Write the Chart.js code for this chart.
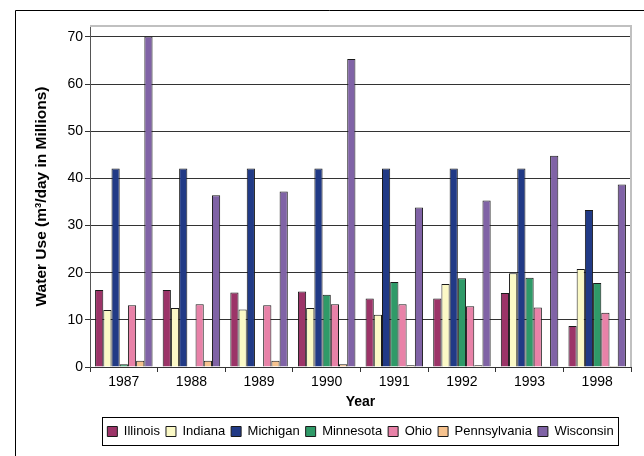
<!DOCTYPE html>
<html>
<head>
<meta charset="utf-8">
<script src="https://cdn.jsdelivr.net/npm/chart.js@4/dist/chart.umd.min.js"></script>
<style>
    html, body { margin: 0; padding: 0; background: #fff; }
    #wrap { width: 644px; height: 456px; }
</style>
</head>
<body>
<div id="wrap"><canvas id="chart" width="644" height="456"></canvas></div>
<script>
const years = ['1987', '1988', '1989', '1990', '1991', '1992', '1993', '1998'];
const states = ['Illinois', 'Indiana', 'Michigan', 'Minnesota', 'Ohio', 'Pennsylvania', 'Wisconsin'];

const illinois = [16.3, 16.3, 15.8, 16.0, 14.5, 14.5, 15.7, 8.7];
const indiana = [12.1, 12.5, 12.2, 12.5, 11.1, 17.6, 19.9, 20.8];
const michigan = [42.1, 42.1, 42.1, 42.1, 42.1, 42.1, 42.1, 33.3];
const minnesota = [0.6, null, null, 15.3, 18.0, 18.8, 18.9, 17.8];
const ohio = [13.1, 13.3, 13.1, 13.3, 13.3, 12.9, 12.6, 11.5];
const pennsylvania = [1.3, 1.3, 1.3, 0.6, 0.35, 0.35, 0.15, 0.2];
const wisconsin = [70.1, 36.4, 37.2, 65.3, 33.8, 35.3, 44.8, 38.7];

const seriesValues = [illinois, indiana, michigan, minnesota, ohio, pennsylvania, wisconsin];
const seriesColors = ['#9c3468', '#fbf9c6', '#213a86', '#2f9a68', '#e882a8', '#f6c28e', '#8063a6'];

const FONT = '"Liberation Sans", Arial, sans-serif';

class WaterUseChartView {

    #canvas;
    #chart;

    constructor(canvas) {
        this.#canvas = canvas;
    }

    display() {
        this.#chart = new Chart(this.#canvas, {
            type: 'bar',
            data: this.#getData(),
            options: this.#getOptions(),
            plugins: [this.#getFramePlugin()]
        });
    }

    #getData() {
        return {
            labels: years,
            datasets: states.map((state, i) => ({
                label: state,
                data: seriesValues[i],
                backgroundColor: seriesColors[i],
                borderColor: '#1a1a1a',
                borderWidth: 1,
                categoryPercentage: 0.85,
                barPercentage: 1.0
            }))
        };
    }

    #getOptions() {
        return {
            responsive: false,
            animation: false,
            layout: {
                padding: { left: 20, right: 13, top: 26, bottom: 8 }
            },
            scales: {
                x: {
                    grid: {
                        offset: true,
                        drawOnChartArea: false,
                        tickLength: 5,
                        color: '#333'
                    },
                    border: { color: '#333' },
                    ticks: {
                        color: '#000',
                        font: { family: FONT, size: 14 },
                        padding: 2
                    },
                    title: {
                        display: true,
                        text: 'Year',
                        color: '#000',
                        font: { family: FONT, size: 14, weight: 'bold' },
                        padding: { top: 2, bottom: 8 }
                    },
                    afterFit: scale => { scale.height = 52; }
                },
                y: {
                    min: 0,
                    max: 72.3,
                    ticks: {
                        stepSize: 10,
                        includeBounds: false,
                        color: '#000',
                        font: { family: FONT, size: 14 },
                        padding: 2
                    },
                    grid: {
                        color: '#333',
                        tickLength: 5
                    },
                    border: { color: '#555' },
                    title: {
                        display: true,
                        text: 'Water Use (m³/day in Millions)',
                        color: '#000',
                        font: { family: FONT, size: 15.5, weight: 'bold' },
                        padding: { top: 12, bottom: 0 }
                    },
                    afterFit: scale => { scale.width = 70; }
                }
            },
            plugins: {
                legend: {
                    position: 'bottom',
                    fullSize: false,
                    labels: {
                        color: '#000',
                        font: { family: FONT, size: 13 },
                        boxWidth: 10,
                        boxHeight: 10,
                        padding: 6
                    }
                },
                tooltip: { enabled: false }
            }
        };
    }

    // outer frame, grey plot border and the box round the legend
    #getFramePlugin() {
        return {
            id: 'frames',
            afterDraw(chart) {
                const ctx = chart.ctx;
                const area = chart.chartArea;
                ctx.save();

                ctx.strokeStyle = '#000';
                ctx.lineWidth = 1;
                ctx.beginPath();
                ctx.moveTo(15.5, 456);
                ctx.lineTo(15.5, 10.5);
                ctx.lineTo(644, 10.5);
                ctx.stroke();

                ctx.strokeStyle = '#c0c0c0';
                ctx.lineWidth = 2;
                ctx.beginPath();
                ctx.moveTo(area.left, area.top);
                ctx.lineTo(area.right, area.top);
                ctx.lineTo(area.right, area.bottom);
                ctx.stroke();

                const boxes = chart.legend.legendHitBoxes;
                if (boxes && boxes.length) {
                    const first = boxes[0];
                    const last = boxes[boxes.length - 1];
                    const left = Math.round(first.left) - 4.5;
                    const right = Math.round(last.left + last.width) + 4.5;
                    const top = Math.round(first.top) - 7.5;
                    const bottom = Math.round(first.top + first.height) + 7.5;
                    ctx.strokeStyle = '#000';
                    ctx.lineWidth = 1;
                    ctx.strokeRect(left, top, right - left, bottom - top);
                }
                ctx.restore();
            }
        };
    }
}

new WaterUseChartView(document.getElementById('chart')).display();
</script>
</body>
</html>
